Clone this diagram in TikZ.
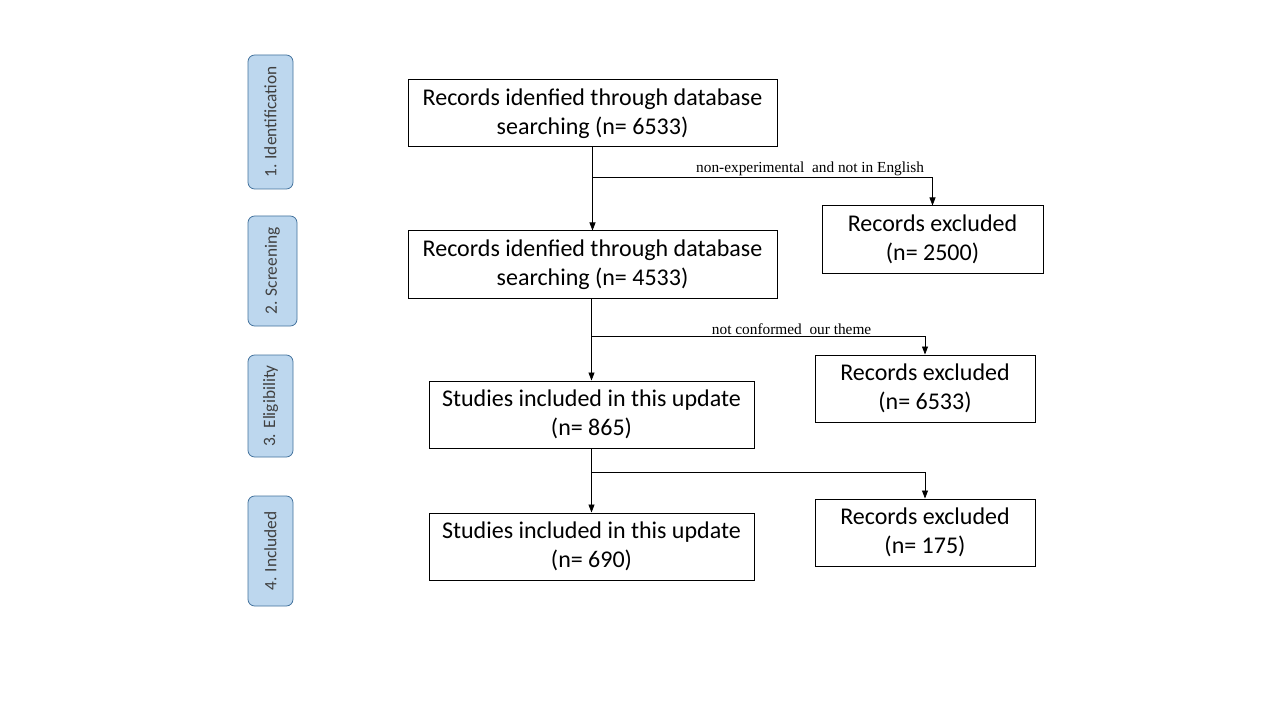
\documentclass[tikz,border=0pt]{standalone}
\usepackage{fontspec}
\usepackage{xcolor}
\usepackage{tikz}
\usetikzlibrary{arrows, arrows.meta, positioning, calc}
\setmainfont{Carlito}
\newfontfamily\labelfont{Liberation Serif}
\definecolor{tabblue}{RGB}{189,215,238}
\definecolor{tabedge}{RGB}{65,113,156}
\definecolor{tabtext}{RGB}{64,64,64}

\begin{document}
\begin{tikzpicture}[x=0.75pt,y=-0.75pt,
    stagebox/.style={rectangle,draw=black,line width=0.75pt,fill=white,minimum height=50.25pt,align=center,font=\fontsize{18}{21.6}\selectfont,inner sep=0pt},
    phasetab/.style={rectangle,rounded corners=5pt,draw=tabedge,line width=0.6pt,fill=tabblue,minimum height=33.75pt,rotate=90,font=\fontsize{13}{15}\selectfont,text=tabtext,inner sep=0pt},
    flow/.style={-{Triangle[length=6pt,width=4.5pt]},line width=0.6pt},
    reason/.style={font=\labelfont\fontsize{11.5}{13}\selectfont,inner sep=0.5pt}]
    \useasboundingbox (0,0) rectangle (1280,720);

    % Phases
    \node[phasetab,minimum width=100.5pt] (tabid) at (270.5,122) {1. Identification};
    \node[phasetab,minimum width=82.5pt,minimum height=36.75pt] (tabscr) at (272.5,271) {2. Screening};
    \node[phasetab,minimum width=76.5pt] (tabelig) at (270.5,406) {3. Eligibility};
    \node[phasetab,minimum width=82.5pt] (tabincl) at (270.5,551) {4. Included};

    % Records
    \node[stagebox,minimum width=276.75pt] (ident) at (592.5,113.5) {Records idenfied through database\\searching (n= 6533)};
    \node[stagebox,minimum width=276.75pt] (screen) at (592.5,264.5) {Records idenfied through database\\searching (n= 4533)};
    \node[stagebox,minimum width=243.75pt] (elig) at (591.5,414.5) {Studies included in this update\\(n= 865)};
    \node[stagebox,minimum width=243.75pt] (incl) at (591.5,546.5) {Studies included in this update\\(n= 690)};

    % Exclusions
    \node[stagebox,minimum width=165.75pt] (excla) at (932.5,239.5) {Records excluded\\(n= 2500)};
    \node[stagebox,minimum width=165pt] (exclb) at (925,388.5) {Records excluded\\(n= 6533)};
    \node[stagebox,minimum width=165pt] (exclc) at (925,532.5) {Records excluded\\(n= 175)};

    % Junctions
    \coordinate (splita) at ($(ident.south)!0.357!(screen.north)$);
    \coordinate (splitb) at ($(elig.north |- screen.south)!0.458!(elig.north)$);
    \coordinate (splitc) at ($(elig.south)!0.369!(incl.north)$);

    % Arrows
    \draw[flow] (ident.south) -- (screen.north);
    \draw[flow] (splita) -| node[reason,above,pos=0.32] {non-experimental\ \ and not in English} (excla.north);
    \draw[flow] (elig.north |- screen.south) -- (elig.north);
    \draw[flow] (splitb) -| node[reason,above,pos=0.3] {not conformed\ \ our theme} (exclb.north);
    \draw[flow] (elig.south) -- (incl.north);
    \draw[flow] (splitc) -| (exclc.north);
\end{tikzpicture}
\end{document}
